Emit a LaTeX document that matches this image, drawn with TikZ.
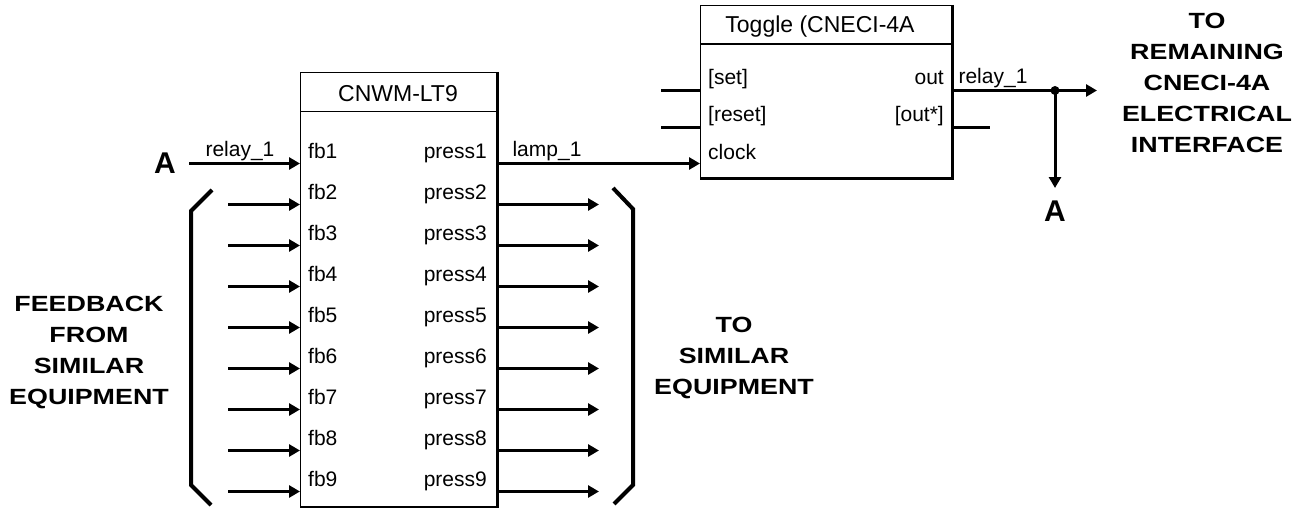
\documentclass[tikz,border=0pt]{standalone}
\usepackage{fontspec}
\setmainfont{Liberation Sans}
\newfontfamily\heavy[FakeStretch=1.22]{Liberation Sans}
\usetikzlibrary{arrows.meta}
\tikzset{
  wire/.style={line width=3pt},
  arr/.style={wire,-{Triangle[length=11pt,width=12pt]}},
  pinlbl/.style={inner sep=0pt, font=\fontsize{21}{25}\selectfont},
  ttl/.style={inner sep=0pt, font=\fontsize{23}{27}\selectfont},
  big/.style={inner sep=0pt, align=center, font=\heavy\bfseries\fontsize{22}{31}\selectfont},
  letter/.style={inner sep=0pt, font=\bfseries\fontsize{30}{30}\selectfont},
  bracket/.style={line width=4pt, line join=miter},
  blk/.style={draw, line width=1.2pt, inner sep=0pt, anchor=north west},
  shade/.style={line width=3pt},
  sep/.style={line width=1.2pt},
}
\begin{document}
\begin{tikzpicture}[x=1pt,y=-1pt]
\useasboundingbox (0,0) rectangle (1309,508);

% ---- CNWM-LT9 block
\node[blk, minimum width=196pt, minimum height=434pt] (cn) at (300,72) {};
\draw[shade] (cn.north east) -- (cn.south east) -- (cn.south west);
\draw[sep] ([yshift=-39.7pt]cn.north west) -- ([yshift=-39.7pt]cn.north east);
\node[ttl, anchor=base] (cnt) at (398,101.7) {CNWM-LT9};

\foreach \i [evaluate=\i as \y using 163.5+41*(\i-1)] in {1,...,9} {
  \coordinate (in\i) at (300,\y);
  \coordinate (out\i) at (496,\y);
  \node[pinlbl, anchor=base west] (fb\i) at (308,\y-5.5) {fb\i};
  \node[pinlbl, anchor=base east] (pr\i) at (487,\y-5.5) {press\i};
}
\foreach \i [evaluate=\i as \y using 163.5+41*(\i-1)] in {2,...,9} {
  \coordinate (src\i) at (228,\y);
  \coordinate (dst\i) at (599,\y);
  \draw[arr] (src\i) -- (in\i);
  \draw[arr] (out\i) -- (dst\i);
}

% ---- left A input
\node[letter] (A1) at (165,163.5) {A};
\draw[arr, shorten <=13pt] (A1) -- (in1);
\node[pinlbl, anchor=base] (r1) at (240,156.7) {relay\_1};

% ---- brackets
\draw[bracket] (212,190) -- (191,211) -- (191,485) -- (211,505);
\draw[bracket] (613,188) -- (633,209) -- (633,485) -- (614,504);

% ---- Toggle block
\node[blk, minimum width=251pt, minimum height=172pt] (tg) at (700,5) {};
\draw[shade] (tg.north east) -- (tg.south east) -- (tg.south west);
\draw[sep] ([yshift=-39pt]tg.north west) -- ([yshift=-39pt]tg.north east);
\node[ttl, anchor=base] (tgt) at (820,33) {Toggle (CNECI-4A};

\coordinate (setin) at (700,90.5);
\coordinate (setsrc) at (661,90.5);
\coordinate (rstin) at (700,127.5);
\coordinate (rstsrc) at (661,127.5);
\coordinate (clk) at (700,163.5);
\draw[wire] (setsrc) -- (setin);
\draw[wire] (rstsrc) -- (rstin);
\draw[arr] (out1) -- (clk);
\node[pinlbl, anchor=base] (l1) at (547,156.7) {lamp\_1};

\node[pinlbl, anchor=base west] (pset) at (708,85) {[set]};
\node[pinlbl, anchor=base west] (preset) at (708,121.5) {[reset]};
\node[pinlbl, anchor=base west] (pclk) at (708,160) {clock};
\node[pinlbl, anchor=base east] (pout) at (944,85) {out};
\node[pinlbl, anchor=base east] (poutn) at (944,121.5) {[out*]};

\coordinate (outp) at (951,90.5);
\coordinate (outnp) at (951,127.5);
\coordinate (outnend) at (990,127.5);
\coordinate (j) at (1055,90.5);
\coordinate (jr) at (1097,90.5);
\coordinate (jd) at (1055,188);
\draw[wire] (outp) -- (j);
\draw[wire] (outnp) -- (outnend);
\draw[arr] (j) -- (jr);
\draw[arr] (j) -- (jd);
\fill (j) circle (4.5pt);
\node[pinlbl, anchor=base] (r2) at (993,84) {relay\_1};
\node[letter] (A2) at (1055,211) {A};

% ---- big labels
\node[big] (fbk) at (89,352) {FEEDBACK\\FROM\\SIMILAR\\EQUIPMENT};
\node[big] (tse) at (734,358) {TO\\SIMILAR\\EQUIPMENT};
\node[big] (trm) at (1207,83) {TO\\REMAINING\\CNECI-4A\\ELECTRICAL\\INTERFACE};
\end{tikzpicture}
\end{document}
